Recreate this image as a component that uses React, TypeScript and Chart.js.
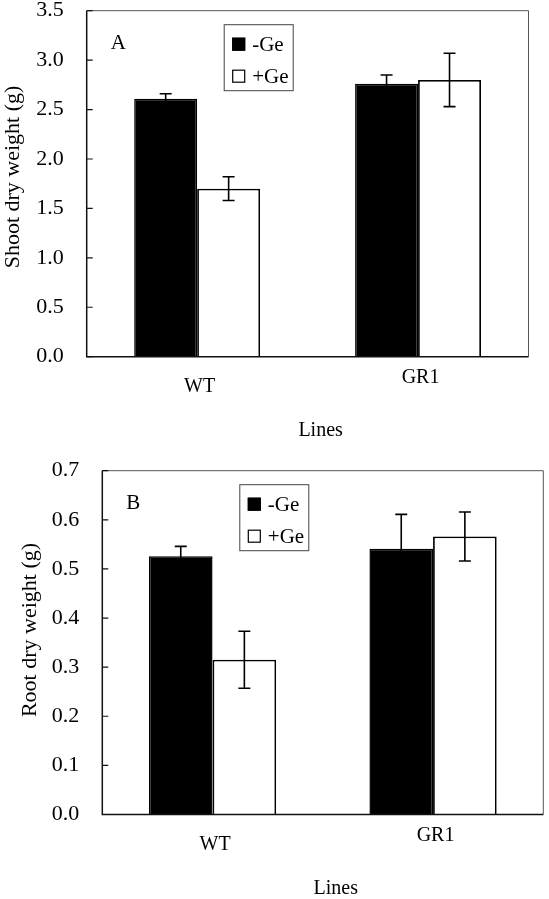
import React, { useEffect, useRef } from 'react';
import { Chart, registerables } from 'chart.js';

Chart.register(...registerables);

// ---------- data ----------
const lines = ['WT', 'GR1'];
const seriesNames = ['-Ge', '+Ge'];

const shootMinusGe = [2.61, 2.76];
const shootMinusGeErr = [0.05, 0.09];
const shootPlusGe = [1.7, 2.8];
const shootPlusGeErr = [0.12, 0.27];
const shootTicks = [0, 0.5, 1.0, 1.5, 2.0, 2.5, 3.0, 3.5];

const rootMinusGe = [0.526, 0.541];
const rootMinusGeErr = [0.02, 0.07];
const rootPlusGe = [0.315, 0.566];
const rootPlusGeErr = [0.058, 0.05];
const rootTicks = [0, 0.1, 0.2, 0.3, 0.4, 0.5, 0.6, 0.7];

const SERIF = '"Liberation Serif", "Times New Roman", serif';
const W = 549;

const decorPlugin = {
  id: 'decor',
  afterDatasetsDraw(chart: any, _args: any, opts: any) {
    const ctx = chart.ctx;
    const y = chart.scales.y;
    chart.data.datasets.forEach((ds: any, di: number) => {
      const meta = chart.getDatasetMeta(di);
      meta.data.forEach((el: any, i: number) => {
        const v = ds.data[i];
        const e = ds.errors[i];
        const yt = y.getPixelForValue(v + e);
        const yb = y.getPixelForValue(v - e);
        ctx.save();
        ctx.strokeStyle = '#000';
        ctx.lineWidth = 1.6;
        ctx.beginPath();
        ctx.moveTo(el.x, yt);
        ctx.lineTo(el.x, yb);
        ctx.moveTo(el.x - 6, yt);
        ctx.lineTo(el.x + 6, yt);
        ctx.moveTo(el.x - 6, yb);
        ctx.lineTo(el.x + 6, yb);
        ctx.stroke();
        ctx.restore();
      });
    });
  },
  afterDraw(chart: any, _args: any, opts: any) {
    const ctx = chart.ctx;
    const a = chart.chartArea;
    const y = chart.scales.y;
    ctx.save();
    // frame
    ctx.strokeStyle = '#555';
    ctx.lineWidth = 1;
    ctx.beginPath();
    ctx.moveTo(a.left, a.top);
    ctx.lineTo(a.right, a.top);
    ctx.lineTo(a.right, a.bottom);
    ctx.stroke();
    ctx.strokeStyle = '#111';
    ctx.lineWidth = 1.5;
    ctx.beginPath();
    ctx.moveTo(a.left, a.top);
    ctx.lineTo(a.left, a.bottom);
    ctx.lineTo(a.right, a.bottom);
    ctx.stroke();
    // inward y ticks
    ctx.lineWidth = 1.2;
    ctx.beginPath();
    y.ticks.forEach((t: any) => {
      const py = y.getPixelForValue(t.value);
      ctx.moveTo(a.left, py);
      ctx.lineTo(a.left + 6, py);
    });
    ctx.stroke();
    // panel letter
    ctx.fillStyle = '#000';
    ctx.font = `21px ${SERIF}`;
    ctx.textAlign = 'left';
    ctx.textBaseline = 'alphabetic';
    ctx.fillText(opts.letter, a.left + 24, a.top + 37.8);
    // legend box
    const bx = a.left + 137.5;
    const by = a.top + 14;
    ctx.strokeStyle = '#444';
    ctx.lineWidth = 1;
    ctx.strokeRect(bx, by, 69, 66);
    chart.data.datasets.forEach((ds: any, di: number) => {
      const cy = by + 19.5 + di * 32;
      const sx = bx + 8;
      ctx.fillStyle = ds.backgroundColor;
      ctx.fillRect(sx, cy - 6.5, 13, 13);
      ctx.strokeStyle = '#000';
      ctx.lineWidth = 1.2;
      ctx.strokeRect(sx + 0.5, cy - 6, 12, 12);
      ctx.fillStyle = '#000';
      ctx.font = `21px ${SERIF}`;
      ctx.textAlign = 'left';
      ctx.textBaseline = 'middle';
      ctx.fillText(ds.label, sx + 20, cy + 1);
    });
    // y-axis title
    ctx.save();
    ctx.translate(opts.yTitleX, (a.top + a.bottom) / 2 + opts.yTitleShift);
    ctx.rotate(-Math.PI / 2);
    ctx.font = `22px ${SERIF}`;
    ctx.textAlign = 'center';
    ctx.textBaseline = 'middle';
    ctx.fillStyle = '#000';
    ctx.fillText(opts.yTitle, 0, 0);
    ctx.restore();
    // x-axis title
    ctx.font = `20px ${SERIF}`;
    ctx.textAlign = 'center';
    ctx.textBaseline = 'middle';
    ctx.fillStyle = '#000';
    ctx.fillText(opts.xTitle, (a.left + a.right) / 2 + 13, a.bottom + 74.5);
    ctx.restore();
  },
};

type PanelProps = {
  letter: string;
  yTitle: string;
  ticks: number[];
  minus: number[];
  minusErr: number[];
  plus: number[];
  plusErr: number[];
  area: { left: number; right: number; top: number; bottom: number };
  height: number;
  yTitleX: number;
  yTitleShift: number;
  catPct: number;
};

function Panel(p: PanelProps) {
  const ref = useRef<HTMLCanvasElement>(null);
  useEffect(() => {
    if (!ref.current) return;
    const chart = new Chart(ref.current, {
      type: 'bar',
      data: {
        labels: lines,
        datasets: [
          {
            label: seriesNames[0],
            data: p.minus,
            errors: p.minusErr,
            backgroundColor: '#000',
            borderColor: '#000',
            borderWidth: 1.5,
          } as any,
          {
            label: seriesNames[1],
            data: p.plus,
            errors: p.plusErr,
            backgroundColor: '#fff',
            borderColor: '#000',
            borderWidth: 1.8,
          } as any,
        ],
      },
      options: {
        responsive: false,
        animation: false,
        devicePixelRatio: 1,
        datasets: { bar: { categoryPercentage: p.catPct, barPercentage: 1.0 } },
        layout: {
          padding: { left: 0, top: p.area.top, right: W - p.area.right, bottom: 0 },
        },
        plugins: {
          legend: { display: false },
          tooltip: { enabled: false },
          decor: {
            letter: p.letter,
            yTitle: p.yTitle,
            xTitle: 'Lines',
            yTitleX: p.yTitleX,
            yTitleShift: p.yTitleShift,
          },
        } as any,
        scales: {
          x: {
            type: 'category',
            offset: true,
            grid: { display: false, drawTicks: false },
            border: { display: false },
            ticks: {
              padding: 0,
              labelOffset: 2.5,
              color: '#000',
              font: (c: any) => ({
                family: SERIF,
                size: 20,
                lineHeight: c.index === 0 ? '60px' : '42px',
              }),
            },
            afterFit: (s: any) => {
              s.height = p.height - p.area.bottom;
              s.paddingLeft = 0;
              s.paddingRight = 0;
            },
          },
          y: {
            type: 'linear',
            min: p.ticks[0],
            max: p.ticks[p.ticks.length - 1],
            afterBuildTicks: (s: any) => {
              s.ticks = p.ticks.map((v) => ({ value: v }));
            },
            grid: { display: false, drawTicks: false },
            border: { display: false },
            ticks: {
              padding: 23,
              color: '#000',
              font: { family: SERIF, size: 22 },
              callback: (v: any) => Number(v).toFixed(1),
            },
            afterFit: (s: any) => {
              s.width = p.area.left;
              s.paddingTop = 0;
              s.paddingBottom = 0;
            },
          },
        },
      } as any,
      plugins: [decorPlugin],
    });
    return () => chart.destroy();
  }, []);
  return (
    <canvas
      ref={ref}
      width={W}
      height={p.height}
      style={{ display: 'block', width: W, height: p.height }}
    />
  );
}

export default function App() {
  return (
    <div style={{ position: 'absolute', left: 0, top: 0, width: W, height: 899, background: '#fff' }}>
      <div style={{ position: 'absolute', left: 0, top: 0 }}>
        <Panel
          letter="A"
          yTitle="Shoot dry weight (g)"
          ticks={shootTicks}
          minus={shootMinusGe}
          minusErr={shootMinusGeErr}
          plus={shootPlusGe}
          plusErr={shootPlusGeErr}
          area={{ left: 86.7, right: 528.5, top: 10.7, bottom: 356.7 }}
          height={450}
          yTitleX={13.5}
          yTitleShift={-6.7}
          catPct={0.57}
        />
      </div>
      <div style={{ position: 'absolute', left: 0, top: 450 }}>
        <Panel
          letter="B"
          yTitle="Root dry weight (g)"
          ticks={rootTicks}
          minus={rootMinusGe}
          minusErr={rootMinusGeErr}
          plus={rootPlusGe}
          plusErr={rootPlusGeErr}
          area={{ left: 102.3, right: 543.3, top: 20.7, bottom: 364.5 }}
          height={449}
          yTitleX={30.7}
          yTitleShift={-12.6}
          catPct={0.577}
        />
      </div>
    </div>
  );
}
